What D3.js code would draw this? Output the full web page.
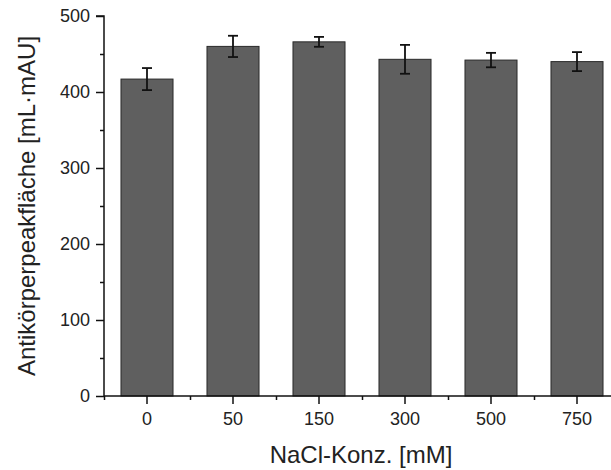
<!DOCTYPE html>
<html>
<head>
<meta charset="utf-8">
<script src="https://cdn.jsdelivr.net/npm/d3@7"></script>
<style>
  html, body { margin: 0; padding: 0; background: #fff; }
  svg { display: block; }
  text { font-family: Arial, "Liberation Sans", sans-serif; fill: #222; }
</style>
</head>
<body>
<svg id="chart" width="611" height="470"></svg>
<script>
const categories = ["0", "50", "150", "300", "500", "750"];
const values = [417, 460, 466, 443, 442, 440];
const errors = [14.5, 14, 6.5, 19, 9.5, 12.5];
const yTicks = [0, 100, 200, 300, 400, 500];
const yMinorTicks = [50, 150, 250, 350, 450];
const xTitle = "NaCl-Konz. [mM]";
const yTitle = "Antikörperpeakfläche [mL·mAU]";

const svg = d3.select("#chart");
const mLeft = 104, mRight = 620, mTop = 16, mBottom = 396;

const x = d3.scaleBand().domain(categories).range([mLeft, mRight])
  .paddingInner(0.395).paddingOuter(0.395 / 2);
const y = d3.scaleLinear().domain([0, 500]).range([mBottom, mTop]);

// bars
svg.append("g").selectAll("rect").data(values).join("rect")
  .attr("x", (d, i) => x(categories[i]))
  .attr("y", d => y(d))
  .attr("width", x.bandwidth())
  .attr("height", d => y(0) - y(d))
  .attr("fill", "#5f5f5f")
  .attr("stroke", "#2a2a2a")
  .attr("stroke-width", 1);

// error bars
const eb = svg.append("g").attr("stroke", "#111").attr("stroke-width", 1.8);
values.forEach((v, i) => {
  const cx = x(categories[i]) + x.bandwidth() / 2;
  const hi = y(v + errors[i]), lo = y(v - errors[i]);
  eb.append("line").attr("x1", cx).attr("x2", cx).attr("y1", hi).attr("y2", lo);
  eb.append("line").attr("x1", cx - 5).attr("x2", cx + 5).attr("y1", hi).attr("y2", hi);
  eb.append("line").attr("x1", cx - 5).attr("x2", cx + 5).attr("y1", lo).attr("y2", lo);
});

// y axis
const yAxis = svg.append("g").attr("transform", `translate(${mLeft},0)`)
  .call(d3.axisLeft(y).tickValues(yTicks).tickSize(8).tickPadding(6).tickFormat(d3.format("d")));
yAxis.select(".domain").attr("d", `M-8,${mTop}H0V${mBottom}`).attr("stroke", "#111").attr("stroke-width", 1.5);
yAxis.selectAll(".tick line").attr("stroke", "#111").attr("stroke-width", 1.5);
yAxis.selectAll(".tick text").attr("font-size", 18).attr("fill", "#222")
  .style("font-family", "Arial, 'Liberation Sans', sans-serif");
const yMinor = svg.append("g").attr("transform", `translate(${mLeft},0)`)
  .call(d3.axisLeft(y).tickValues(yMinorTicks).tickSize(4).tickFormat(""));
yMinor.select(".domain").remove();
yMinor.selectAll(".tick line").attr("stroke", "#111").attr("stroke-width", 1.5);

// x axis
const xAxis = svg.append("g").attr("transform", `translate(0,${mBottom})`)
  .call(d3.axisBottom(x).tickSize(8).tickPadding(8));
xAxis.select(".domain").attr("d", `M${mLeft},0H${mRight}`).attr("stroke", "#111").attr("stroke-width", 1.5);
xAxis.selectAll(".tick line").attr("stroke", "#111").attr("stroke-width", 1.5);
xAxis.selectAll(".tick text").attr("font-size", 18).attr("fill", "#222")
  .style("font-family", "Arial, 'Liberation Sans', sans-serif");
const bounds = categories.map(c => x(c) - x.step() * x.paddingInner() / 2).concat([mRight]);
const xMinorScale = d3.scaleLinear().domain([mLeft, mRight]).range([mLeft, mRight]);
const xMinor = svg.append("g").attr("transform", `translate(0,${mBottom})`)
  .call(d3.axisBottom(xMinorScale).tickValues(bounds).tickSize(4).tickFormat(""));
xMinor.select(".domain").remove();
xMinor.selectAll(".tick line").attr("stroke", "#111").attr("stroke-width", 1.5);

// titles
svg.append("text").attr("x", 361).attr("y", 463)
  .attr("text-anchor", "middle").attr("font-size", 24).text(xTitle);
svg.append("text").attr("transform", `translate(35,${(mTop + mBottom) / 2}) rotate(-90)`)
  .attr("text-anchor", "middle").attr("font-size", 24).text(yTitle);
</script>
</body>
</html>
